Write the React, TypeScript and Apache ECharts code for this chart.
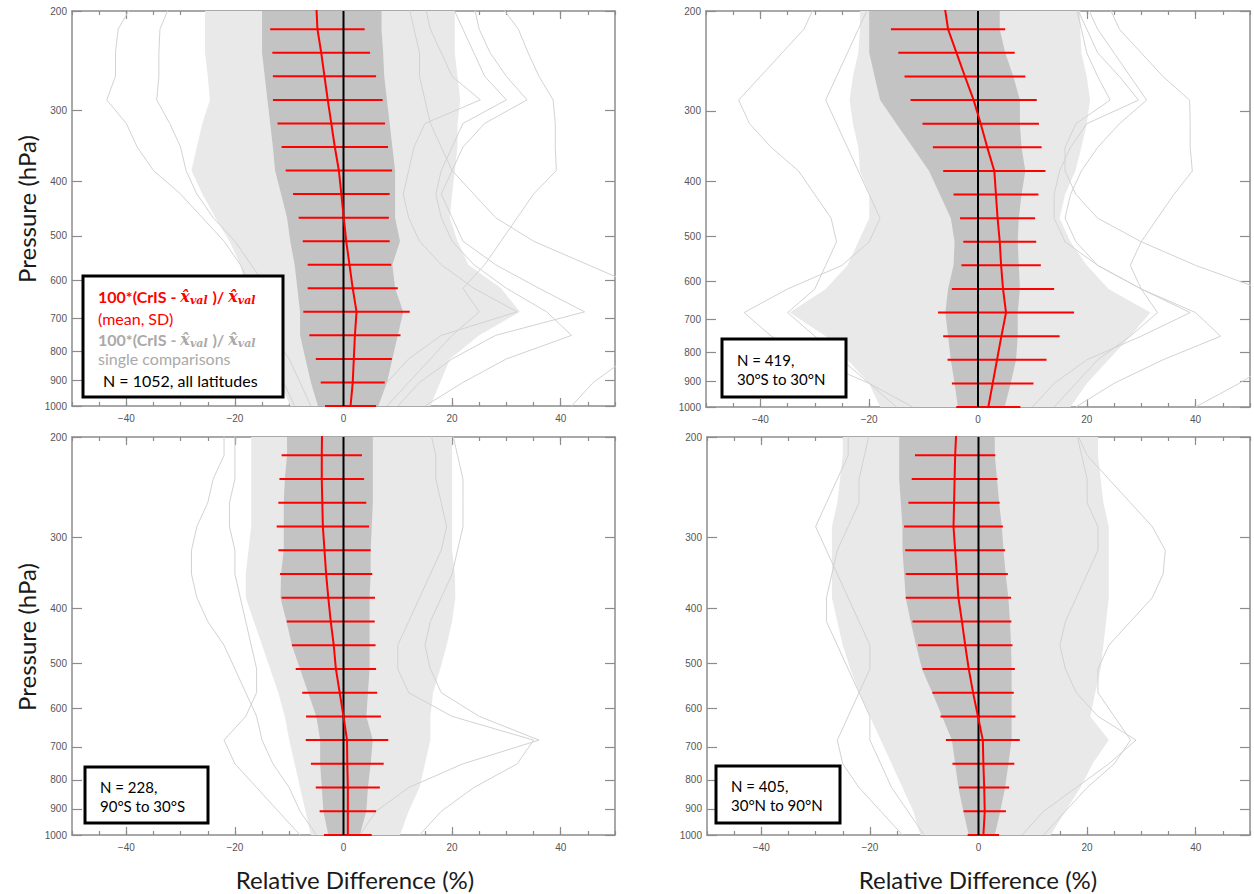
import React, { useEffect, useRef } from "react";
import * as echarts from "echarts";

// ---------- shared axes data ----------
const PRESSURE = [1000, 908.5, 825.4, 749.9, 681.3, 619.0, 562.3, 510.9, 464.2, 421.7, 383.1, 348.1, 316.2, 287.3, 261.0, 237.1, 215.4, 195.7];
const Y_TICKS = [200, 300, 400, 500, 600, 700, 800, 900, 1000];
const X_TICKS = [-40, -20, 0, 20, 40];
const X_MIN = -50;
const X_MAX = 50;
const X_MINOR_STEP = 5;
const P_TOP = 200;
const P_BOTTOM = 1000;

// ---------- top-left: all latitudes ----------
const tlMean = [1.3, 1.7, 1.9, 2.1, 2.4, 1.7, 1.1, 0.5, 0.05, -0.4, -0.85, -1.6, -2.25, -2.9, -3.5, -4.1, -4.8, -5.0];
const tlSd = [4.7, 5.9, 7.0, 8.4, 9.8, 8.3, 7.7, 8.0, 8.3, 8.9, 9.8, 9.8, 9.9, 10.1, 9.5, 9.0, 8.7, 8.7];
const tlCoreLo = [-4.7, -6, -7, -8, -8, -8.5, -9, -9.8, -10.4, -11.5, -12.6, -13, -13.5, -14, -14.5, -15, -15, -15];
const tlCoreHi = [6.4, 8, 9, 10, 11, 9.5, 9, 10.4, 9.5, 9.5, 9.5, 9, 8.5, 8, 7.5, 7.3, 7, 7];
const tlHaloLo = [-9.8, -11.7, -14.5, -16, -15.4, -18, -19, -21, -23.6, -26, -28, -27, -26, -24.6, -25, -25.5, -25.5, -25.5];
const tlHaloHi = [16, 17.8, 19.6, 25, 32.5, 29, 23, 21, 19.6, 20, 20.5, 21, 21, 21.5, 21, 20.5, 20.5, 20.5];
const tlSingleA = [-9, -11, -14, -17, -20, -17, -19, -22, -26, -30, -35, -38, -40, -43.6, -42, -42, -41.5, -39];
const tlSingleB = [-6, -8, -10, -13, -15, -14, -17, -20, -24, -27, -29, -30, -32, -34.4, -34, -34, -33.8, -32];
const tlSingleC = [8, 12, 16, 20, 25, 22, 26, 29, 32, 35, 39.2, 39, 39, 38.6, 36, 34, 32.2, 29];
const tlSingleD = [10, 14, 20, 28, 44.4, 36, 28, 22, 20, 18, 20, 22, 26, 33.8, 30, 27, 25, 24];
const tlSingleE = [15, 22, 30, 42, 37.4, 30, 24, 20, 18, 17, 18, 20, 22, 30, 26, 24, 22, 20];
const tlSingleF = [42, 46, 52, 58, 60, 55, 45, 35, 28, 24, 20, 18, 16, 15, 14, 14, 13, 12];
const tlSingleG = [5, 8, 12, 18, 32, 24, 18, 14, 12, 11, 12, 13, 15, 25.2, 20, 18, 16, 15];

// ---------- top-right: 30S to 30N ----------
const trMean = [1.9, 2.7, 3.5, 4.3, 5.15, 4.6, 4.25, 4.0, 3.6, 3.3, 3.0, 1.7, 0.5, -0.8, -2.4, -3.95, -5.5, -6.15];
const trSd = [5.9, 7.5, 9.1, 10.7, 12.5, 9.4, 7.3, 6.7, 6.9, 7.8, 9.4, 10.0, 10.7, 11.6, 11.1, 10.7, 10.5, 10.5];
const trCoreLo = [-3.7, -4.3, -5, -5.5, -6, -5.5, -4.5, -4.3, -5, -7, -9, -12, -15, -18, -19, -20, -20, -20];
const trCoreHi = [4.9, 6, 7, 7.3, 7.3, 7.7, 7.5, 7.3, 7.5, 8, 8.7, 8, 7.7, 7.7, 6.5, 5, 4, 4];
const trHaloLo = [-18, -20, -24, -28, -34.6, -28, -24, -22, -20, -20, -21.7, -22, -23, -23.6, -23, -22, -21.7, -21.7];
const trHaloHi = [17, 20, 24, 28, 31.7, 24, 20, 17, 15, 16, 17.9, 19, 20, 20.6, 20, 19, 18.8, 18.8];
const trSingleA = [-15, -20, -25, -30, -35, -30, -28, -26, -27, -30, -33, -38, -42, -44, -40, -36, -32, -30];
const trSingleB = [-12, -20, -30, -38, -43, -35, -25, -20, -18, -20, -22, -24, -26, -28, -26, -24, -22, -20];
const trSingleC = [14, 18, 22, 28, 33, 30, 28, 30, 33, 36, 39.4, 39, 39, 38.9, 34, 30, 26, 24];
const trSingleD = [18, 25, 34, 44.6, 40, 30, 22, 18, 16, 17, 19, 22, 26, 31, 28, 25, 22, 20];
const trSingleE = [40, 48, 55, 60, 58, 52, 40, 30, 22, 18, 16, 16, 18, 24.3, 22, 20, 19, 18];
const trSingleF = [10, 14, 20, 30, 39, 30, 22, 16, 14, 14, 15, 17, 20, 29.5, 26, 22, 20, 18];

// ---------- bottom-left: 90S to 30S ----------
const blMean = [0.8, 0.8, 0.8, 0.7, 0.65, 0.0, -0.7, -1.4, -1.8, -2.35, -2.8, -3.2, -3.5, -3.8, -3.9, -4.0, -4.0, -3.95];
const blSd = [4.4, 5.2, 5.9, 6.7, 7.6, 6.9, 6.9, 7.4, 7.7, 8.1, 8.6, 8.5, 8.5, 8.5, 8.1, 7.8, 7.4, 7.4];
const blCoreLo = [-2.8, -3.7, -4, -4.3, -4.3, -5, -6.5, -8, -9.5, -10.5, -11.6, -11.5, -11, -11, -11, -10.8, -10.4, -10.4];
const blCoreHi = [3, 4.2, 4.5, 5, 5.4, 4.2, 4.5, 4.8, 4.8, 4.8, 4.8, 5, 5, 5.2, 5.4, 5.4, 5.4, 5.4];
const blHaloLo = [-6, -7, -8, -9, -10, -10.8, -12, -13.5, -15, -16.5, -18, -18, -17.5, -17, -17, -17, -17, -17];
const blHaloHi = [10.4, 12, 14, 15, 16, 16, 16.5, 17.8, 19, 20, 20.6, 20.5, 20, 20, 20, 20, 20, 20];
const blSingleA = [-5, -8, -10, -13, -15, -16, -18, -20, -22, -25, -27, -28, -28, -27, -25, -24, -22, -22];
const blSingleB = [3, 6, 12, 22, 36, 25, 18, 16, 15, 16, 18, 20, 21, 22, 22, 22, 21, 20];
const blSingleC = [14, 18, 24, 32, 35, 20, 12, 10, 10, 12, 14, 16, 18, 19, 18, 17, 17, 16];
const blSingleD = [-8, -12, -16, -20, -22, -18, -16, -16, -17, -18, -19, -20, -20, -21, -21, -20, -20, -20];

// ---------- bottom-right: 30N to 90N ----------
const brMean = [0.9, 1.15, 1.05, 0.9, 0.8, -0.1, -1.0, -1.8, -2.45, -3.05, -3.7, -4.0, -4.3, -4.6, -4.5, -4.4, -4.3, -4.1];
const brSd = [2.9, 3.9, 4.6, 5.7, 6.8, 6.9, 7.5, 8.5, 8.7, 9.1, 9.7, 9.4, 9.2, 9.1, 8.4, 7.9, 7.4, 7.4];
const brCoreLo = [-1.8, -2.8, -3.7, -4.3, -4.9, -6.7, -8.5, -10.4, -11.5, -12.5, -13.4, -13.7, -14, -14, -14.3, -14.6, -14.6, -14.6];
const brCoreHi = [3, 4, 4.9, 5.5, 6.1, 6.1, 6.1, 6.1, 6, 5.8, 5.5, 5, 4.6, 4.3, 3.8, 3.4, 3, 3];
const brHaloLo = [-10.7, -12, -14, -16, -18, -20, -22, -23.6, -25, -26, -27, -27, -27, -27, -26, -25.5, -25, -25];
const brHaloHi = [13.3, 16, 18.8, 21, 24, 20.6, 21.5, 22.5, 23, 23.5, 24, 24, 24, 24, 23, 22.5, 22, 22];
const brSingleA = [12, 16, 20, 25, 28, 25, 22, 22, 24, 28, 32, 34, 34.4, 32, 28, 24, 20, 18];
const brSingleB = [8, 12, 18, 24, 29, 22, 18, 16, 15, 16, 18, 20, 22, 22, 20, 20, 19, 18];
const brSingleC = [-10, -13, -16, -18, -20, -20, -22, -24, -26, -28, -28, -27, -26, -24, -22, -22, -21, -20];
const brSingleD = [-14, -18, -22, -25, -26, -24, -22, -20, -20, -22, -24, -26, -28, -30, -28, -26, -24, -24];

// ---------- styling ----------
const RED = "#ff0000";
const CORE_GRAY = "#c3c3c3";
const HALO_GRAY = "#e9e9e9";
const SINGLE_GRAY = "#d2d2d2";
const FRAME = "#8c8c8c";
const LABEL = "#555555";
const LEGEND_GRAY = "#a9a9a9";

const LOG_P = PRESSURE.map((p) => Math.log10(p));
const Y_MIN = Math.log10(P_TOP);
const Y_MAX = Math.log10(P_BOTTOM);

const panels = [
  { grid: { left: 72, top: 11, width: 543, height: 395 }, mean: tlMean, sd: tlSd, coreLo: tlCoreLo, coreHi: tlCoreHi, haloLo: tlHaloLo, haloHi: tlHaloHi, singles: [tlSingleA, tlSingleB, tlSingleC, tlSingleD, tlSingleE, tlSingleF, tlSingleG] },
  { grid: { left: 706, top: 11, width: 544, height: 396 }, mean: trMean, sd: trSd, coreLo: trCoreLo, coreHi: trCoreHi, haloLo: trHaloLo, haloHi: trHaloHi, singles: [trSingleA, trSingleB, trSingleC, trSingleD, trSingleE, trSingleF] },
  { grid: { left: 72, top: 437, width: 543, height: 398 }, mean: blMean, sd: blSd, coreLo: blCoreLo, coreHi: blCoreHi, haloLo: blHaloLo, haloHi: blHaloHi, singles: [blSingleA, blSingleB, blSingleC, blSingleD] },
  { grid: { left: 707, top: 437, width: 543, height: 398 }, mean: brMean, sd: brSd, coreLo: brCoreLo, coreHi: brCoreHi, haloLo: brHaloLo, haloHi: brHaloHi, singles: [brSingleA, brSingleB, brSingleC, brSingleD] },
];

function fmtX(v: number) {
  return v < 0 ? "\u2212" + Math.abs(v) : String(v);
}

// clamp a band edge to the top of the axis (interpolated in log-pressure)
function bandEdge(vals: number[]) {
  const out: [number, number][] = [];
  for (let i = 0; i < vals.length; i++) {
    const y = LOG_P[i];
    if (y >= Y_MIN) {
      out.push([vals[i], y]);
    } else if (i > 0 && LOG_P[i - 1] > Y_MIN) {
      const t = (LOG_P[i - 1] - Y_MIN) / (LOG_P[i - 1] - y);
      out.push([vals[i - 1] + t * (vals[i] - vals[i - 1]), Y_MIN]);
    }
  }
  return out;
}

function bandSeries(lo: number[], hi: number[], color: string, xi: number, yi: number, z: number) {
  const loPts = bandEdge(lo);
  const hiPts = bandEdge(hi);
  return {
    type: "custom",
    xAxisIndex: xi,
    yAxisIndex: yi,
    silent: true,
    z,
    data: lo.map((v, i) => [v, hi[i], LOG_P[i]]),
    encode: { x: [0, 1], y: 2 },
    renderItem: (params: any, api: any) => {
      if (params.dataIndex !== 0) return null;
      const pts: number[][] = [];
      loPts.forEach((p) => pts.push(api.coord(p)));
      for (let i = hiPts.length - 1; i >= 0; i--) pts.push(api.coord(hiPts[i]));
      return { type: "polygon", shape: { points: pts }, style: { fill: color } };
    },
  };
}

function buildOption() {
  const grid: any[] = [];
  const xAxis: any[] = [];
  const yAxis: any[] = [];
  const series: any[] = [];

  panels.forEach((pn, gi) => {
    grid.push({ ...pn.grid, containLabel: false });
    const xi = gi * 4;
    const yi = gi * 2;
    const baseLine = { show: true, onZero: false, lineStyle: { color: FRAME, width: 1.5 } };
    xAxis.push({
      type: "value", gridIndex: gi, min: X_MIN, max: X_MAX, position: "bottom",
      axisLine: baseLine,
      axisTick: { show: true, inside: true, length: 8, customValues: X_TICKS, lineStyle: { color: FRAME, width: 1.2 } },
      axisLabel: { show: true, customValues: X_TICKS, formatter: fmtX, color: LABEL, fontSize: 10, fontFamily: "Liberation Sans", margin: 7 },
      splitLine: { show: false },
    });
    xAxis.push({
      type: "value", gridIndex: gi, min: X_MIN, max: X_MAX, interval: X_MINOR_STEP, position: "bottom",
      axisLine: { show: false },
      axisTick: { show: true, inside: true, length: 4, lineStyle: { color: FRAME, width: 1.2 } },
      axisLabel: { show: false },
      splitLine: { show: false },
    });
    xAxis.push({
      type: "value", gridIndex: gi, min: X_MIN, max: X_MAX, position: "top",
      axisLine: baseLine,
      axisTick: { show: true, inside: true, length: 8, customValues: X_TICKS, lineStyle: { color: FRAME, width: 1.2 } },
      axisLabel: { show: false },
      splitLine: { show: false },
    });
    xAxis.push({
      type: "value", gridIndex: gi, min: X_MIN, max: X_MAX, interval: X_MINOR_STEP, position: "top",
      axisLine: { show: false },
      axisTick: { show: true, inside: true, length: 4, lineStyle: { color: FRAME, width: 1.2 } },
      axisLabel: { show: false },
      splitLine: { show: false },
    });
    const yTickVals = Y_TICKS.map((p) => Math.log10(p));
    yAxis.push({
      type: "value", gridIndex: gi, min: Y_MIN, max: Y_MAX, inverse: true, position: "left",
      axisLine: baseLine,
      axisTick: { show: true, inside: true, length: 10, customValues: yTickVals, lineStyle: { color: FRAME, width: 1.2 } },
      axisLabel: { show: true, customValues: yTickVals, formatter: (v: number) => String(Math.round(Math.pow(10, v))), color: LABEL, fontSize: 10, fontFamily: "Liberation Sans", margin: 5 },
      splitLine: { show: false },
    });
    yAxis.push({
      type: "value", gridIndex: gi, min: Y_MIN, max: Y_MAX, inverse: true, position: "right",
      axisLine: baseLine,
      axisTick: { show: true, inside: true, length: 10, customValues: yTickVals, lineStyle: { color: FRAME, width: 1.2 } },
      axisLabel: { show: false },
      splitLine: { show: false },
    });

    series.push(bandSeries(pn.haloLo, pn.haloHi, HALO_GRAY, xi, yi, 1));
    pn.singles.forEach((s) => {
      series.push({
        type: "line", xAxisIndex: xi, yAxisIndex: yi, silent: true, z: 2, clip: true,
        symbol: "none", lineStyle: { color: SINGLE_GRAY, width: 1 },
        data: s.map((v, i) => [v, LOG_P[i]]),
      });
    });
    series.push(bandSeries(pn.coreLo, pn.coreHi, CORE_GRAY, xi, yi, 3));
    series.push({
      type: "custom", xAxisIndex: xi, yAxisIndex: yi, silent: true, z: 5,
      data: pn.mean.map((m, i) => [m - pn.sd[i], m + pn.sd[i], LOG_P[i]]),
      encode: { x: [0, 1], y: 2 },
      renderItem: (params: any, api: any) => {
        const y = api.value(2);
        if (y < Y_MIN - 1e-9) return null;
        const a = api.coord([api.value(0), y]);
        const b = api.coord([api.value(1), y]);
        return { type: "line", shape: { x1: a[0], y1: a[1], x2: b[0], y2: b[1] }, style: { stroke: RED, lineWidth: 2 } };
      },
    });
    series.push({
      type: "line", xAxisIndex: xi, yAxisIndex: yi, silent: true, z: 6, symbol: "none",
      lineStyle: { color: "#000000", width: 2 },
      data: [[0, Y_MIN], [0, Y_MAX]],
    });
    series.push({
      type: "line", xAxisIndex: xi, yAxisIndex: yi, silent: true, z: 7, clip: true, symbol: "none",
      lineStyle: { color: RED, width: 2 },
      data: pn.mean.map((m, i) => [m, LOG_P[i]]),
    });
  });

  const FONT = "Lato";
  const textBox = (x: number, y: number, w: number, h: number) => ({
    type: "rect", z: 100, shape: { x, y, width: w, height: h },
    style: { fill: "#ffffff", stroke: "#000000", lineWidth: 3 },
  });
  const txt = (x: number, y: number, text: string, extra: any = {}) => ({
    type: "text", z: 101, x, y,
    style: { text, fontFamily: FONT, fontSize: 16, fill: "#000000", align: "left", verticalAlign: "middle", ...extra },
  });
  const formulaRich = (color: string) => ({
    b: { fontFamily: FONT, fontSize: 16, fontWeight: "bold", fill: color, color, lineHeight: 20, verticalAlign: "middle" },
    m: { fontFamily: "DejaVu Serif", fontSize: 16, fontWeight: "bold", fontStyle: "italic", fill: color, color, lineHeight: 20, verticalAlign: "middle" },
    s: { fontFamily: "DejaVu Serif", fontSize: 11, fontWeight: "bold", fontStyle: "italic", fill: color, color, lineHeight: 20, verticalAlign: "bottom", padding: [0, 1, 0, 0] },
  });
  const formula = "{b|100*(CrIS - }{m|x\u0302}{s|val}{b| )/ }{m|x\u0302}{s|val}";
  const titleStyle = { fontFamily: FONT, fontSize: 24, fill: "#1a1a1a", align: "center", verticalAlign: "middle" };

  const graphic: any[] = [
    { type: "text", x: 26, y: 209, rotation: Math.PI / 2, style: { text: "Pressure (hPa)", ...titleStyle } },
    { type: "text", x: 26, y: 637, rotation: Math.PI / 2, style: { text: "Pressure (hPa)", ...titleStyle } },
    { type: "text", x: 355, y: 879, style: { text: "Relative Difference (%)", ...titleStyle } },
    { type: "text", x: 978, y: 879, style: { text: "Relative Difference (%)", ...titleStyle } },
    textBox(83, 276, 200, 121),
    { type: "text", z: 101, x: 98, y: 296, style: { text: formula, fill: RED, rich: formulaRich(RED), align: "left", verticalAlign: "middle" } },
    txt(98, 318, "(mean, SD)", { fill: RED }),
    { type: "text", z: 101, x: 98, y: 339, style: { text: formula, fill: LEGEND_GRAY, rich: formulaRich(LEGEND_GRAY), align: "left", verticalAlign: "middle" } },
    txt(98, 358, "single comparisons", { fill: LEGEND_GRAY }),
    txt(103, 380, "N = 1052, all latitudes"),
    textBox(722, 339, 124, 58),
    txt(737, 360, "N = 419,", { fontSize: 15 }),
    txt(737, 379, "30\u00b0S to 30\u00b0N", { fontSize: 15 }),
    textBox(85, 767, 123, 56),
    txt(100, 787, "N = 228,", { fontSize: 15 }),
    txt(100, 806, "90\u00b0S to 30\u00b0S", { fontSize: 15 }),
    textBox(716, 766, 124, 57),
    txt(731, 786, "N = 405,", { fontSize: 15 }),
    txt(731, 805, "30\u00b0N to 90\u00b0N", { fontSize: 15 }),
  ];

  return { animation: false, backgroundColor: "#ffffff", grid, xAxis, yAxis, series, graphic };
}

export default function App() {
  const ref = useRef<HTMLDivElement>(null);
  useEffect(() => {
    const chart = echarts.init(ref.current as HTMLDivElement, undefined, { renderer: "svg" });
    chart.setOption(buildOption() as any);
    return () => chart.dispose();
  }, []);
  return <div ref={ref} style={{ position: "absolute", left: 0, top: 0, width: 1254, height: 894, background: "#ffffff" }} />;
}
